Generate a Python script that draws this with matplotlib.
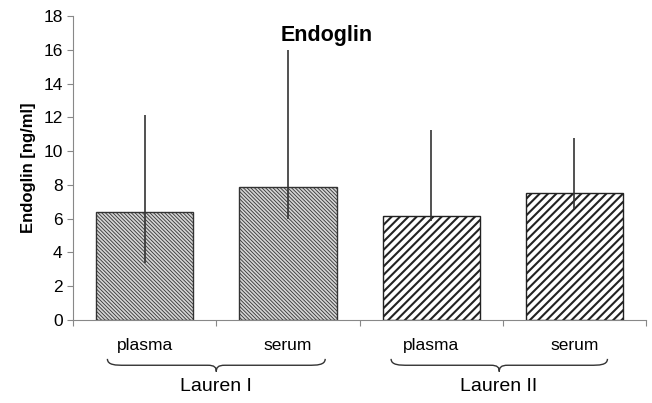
import matplotlib
matplotlib.use("Agg")
import matplotlib.pyplot as plt
from matplotlib.path import Path
from matplotlib.patches import PathPatch
import matplotlib.transforms as mtransforms

# data
samples = ["plasma", "serum", "plasma", "serum"]
groups = ["Lauren I", "Lauren II"]
means = [6.4, 7.85, 6.15, 7.5]
err_low = [3.4, 6.0, 5.85, 6.6]
err_high = [12.15, 16.0, 11.25, 10.8]

plt.rcParams['font.family'] = ['Liberation Sans', 'DejaVu Sans']

fig = plt.figure(figsize=(6.52, 4.03), dpi=100)
ax = fig.add_axes([0.112, 0.206, 0.879, 0.754])

x = list(range(len(means)))
lower = [m - l for m, l in zip(means, err_low)]
upper = [h - m for m, h in zip(means, err_high)]

with plt.rc_context({'hatch.linewidth': 0.6, 'hatch.color': '#777777'}):
    ax.bar(x[:2], means[:2], width=0.68, color='#d4d4d4', edgecolor='#333333',
           linewidth=1.0, hatch='\\' * 9, zorder=2)
with plt.rc_context({'hatch.linewidth': 1.5, 'hatch.color': '#222222'}):
    ax.bar(x[2:], means[2:], width=0.68, color='white', edgecolor='#222222',
           linewidth=1.0, hatch='////', zorder=2)
ax.errorbar(x, means, yerr=[lower, upper], fmt='none', ecolor='#333333',
            elinewidth=1.2, capsize=0, zorder=3)

ax.set_xlim(-0.5, 3.5)
ax.set_ylim(0, 18)
ax.set_yticks(range(0, 19, 2))
ax.set_xticks([-0.5, 0.5, 1.5, 2.5, 3.5])
ax.set_xticklabels([])
for s in ['top', 'right']:
    ax.spines[s].set_visible(False)
for s in ['left', 'bottom']:
    ax.spines[s].set_color('#888888')
ax.tick_params(axis='y', colors='#888888', labelcolor='black', labelsize=12.5,
               length=4, direction='out')
ax.tick_params(axis='x', colors='#888888', length=4, direction='out')
ax.set_ylabel("Endoglin [ng/ml]", fontsize=12, fontweight='bold', labelpad=5)
ax.text(1.27, 16.85, "Endoglin", fontsize=15.5, fontweight='bold',
        ha='center', va='center')

trans = mtransforms.blended_transform_factory(ax.transData, ax.transAxes)
for xi, lab in zip(x, samples):
    ax.text(xi, -0.085, lab, fontsize=12.5, ha='center', va='center',
            transform=trans)


def brace(x0, x1, y0, h):
    xm = (x0 + x1) / 2
    q = 0.06
    verts = [(x0, y0 + h * 0.2), (x0, y0 - h * 0.4), (x0 + q, y0 - h * 0.4), (x0 + 2 * q, y0 - h * 0.4),
             (xm - q, y0 - h * 0.4),
             (xm - q * 0.2, y0 - h * 0.4), (xm, y0 - h * 0.6), (xm, y0 - h),
             (xm, y0 - h * 0.6), (xm + q * 0.2, y0 - h * 0.4), (xm + q, y0 - h * 0.4),
             (x1 - 2 * q, y0 - h * 0.4),
             (x1 - q, y0 - h * 0.4), (x1, y0 - h * 0.4), (x1, y0 + h * 0.2)]
    codes = [Path.MOVETO, Path.CURVE4, Path.CURVE4, Path.CURVE4, Path.LINETO,
             Path.CURVE4, Path.CURVE4, Path.CURVE4,
             Path.CURVE4, Path.CURVE4, Path.CURVE4, Path.LINETO,
             Path.CURVE4, Path.CURVE4, Path.CURVE4]
    p = PathPatch(Path(verts, codes), facecolor='none', edgecolor='#333333',
                  linewidth=1.0, transform=trans, clip_on=False)
    ax.add_patch(p)


brace(-0.26, 1.26, -0.135, 0.035)
brace(1.72, 3.23, -0.135, 0.035)
ax.text(0.5, -0.22, groups[0], fontsize=14, ha='center', va='center', transform=trans)
ax.text(2.47, -0.22, groups[1], fontsize=14, ha='center', va='center', transform=trans)

fig.savefig("out.png", dpi=100)
